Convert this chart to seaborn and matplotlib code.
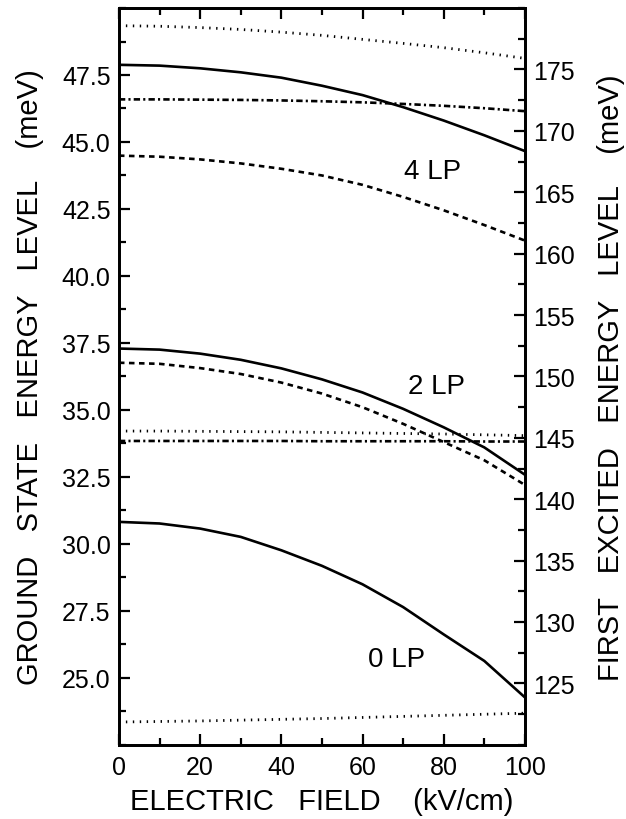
import numpy as np
import pandas as pd
import matplotlib
matplotlib.use("Agg")
import matplotlib.pyplot as plt
from matplotlib.ticker import MultipleLocator, FormatStrFormatter
import seaborn as sns

# Electric field sampling (kV/cm)
field = [0, 10, 20, 30, 40, 50, 60, 70, 80, 90, 100]

# Energy levels, expressed in ground-state axis units (meV)
solid_4lp = [47.88, 47.85, 47.75, 47.60, 47.40, 47.10, 46.75, 46.30, 45.80, 45.25, 44.66]
dotted_top = [49.34, 49.32, 49.27, 49.20, 49.10, 48.98, 48.83, 48.68, 48.52, 48.33, 48.12]
dashdot_top = [46.59, 46.59, 46.58, 46.57, 46.55, 46.52, 46.48, 46.42, 46.35, 46.26, 46.15]
dashed_4lp = [44.49, 44.45, 44.35, 44.20, 44.00, 43.75, 43.40, 42.95, 42.45, 41.90, 41.32]

solid_2lp = [37.29, 37.25, 37.10, 36.87, 36.55, 36.14, 35.65, 35.04, 34.35, 33.60, 32.58]
dashed_2lp = [36.76, 36.72, 36.56, 36.34, 36.02, 35.61, 35.10, 34.48, 33.80, 33.12, 32.20]
dotted_mid = [34.21, 34.21, 34.20, 34.19, 34.18, 34.16, 34.14, 34.12, 34.10, 34.07, 34.04]
dashdot_mid = [33.84, 33.84, 33.84, 33.84, 33.84, 33.83, 33.83, 33.83, 33.83, 33.82, 33.82]

solid_0lp = [30.82, 30.76, 30.57, 30.26, 29.76, 29.18, 28.49, 27.64, 26.62, 25.63, 24.27]
dotted_bot = [23.35, 23.37, 23.39, 23.42, 23.45, 23.48, 23.52, 23.56, 23.60, 23.64, 23.68]

# Curve labels and their anchor positions (field, energy)
lp_labels = ["4 LP", "2 LP", "0 LP"]
lp_x = [77.3, 78.3, 68.5]
lp_y = [43.9, 35.9, 25.7]

# Tick values for both energy scales
ground_ticks = [25.0, 27.5, 30.0, 32.5, 35.0, 37.5, 40.0, 42.5, 45.0, 47.5]
excited_ticks = [125, 130, 135, 140, 145, 150, 155, 160, 165, 170, 175]

sns.set_style("ticks")
plt.rcParams["font.family"] = ["Liberation Sans", "DejaVu Sans"]
plt.rcParams["text.color"] = "black"
plt.rcParams["axes.labelcolor"] = "black"

fig = plt.figure(figsize=(6.26, 8.2), dpi=100)
ax = fig.add_axes([0.190, 0.0905, 0.6485, 0.8985])

lw = 1.9
styles = {
    "solid": "-",
    "dashed": (0, (2.1, 1.7)),
    "dotted": (0, (0.5, 2.0)),
    "dashdot": (0, (2.4, 1.2, 0.8, 1.2)),
}

series = [
    (solid_4lp, "solid"), (dotted_top, "dotted"), (dashdot_top, "dashdot"),
    (dashed_4lp, "dashed"), (solid_2lp, "solid"), (dashed_2lp, "dashed"),
    (dotted_mid, "dotted"), (dashdot_mid, "dashdot"), (solid_0lp, "solid"),
    (dotted_bot, "dotted"),
]

for vals, style in series:
    df = pd.DataFrame({"field": field, "energy": vals})
    line_w = lw if style != "dotted" else 2.0
    sns.lineplot(data=df, x="field", y="energy", ax=ax, color="black",
                 linewidth=line_w, linestyle=styles[style], dash_capstyle="butt")

for txt, x, y in zip(lp_labels, lp_x, lp_y):
    ax.text(x, y, txt, fontsize=20, ha="center", va="center", color="black")

ax.set_xlim(0, 100)
ax.set_ylim(22.5, 50.0)
ax.xaxis.set_major_locator(MultipleLocator(20))
ax.xaxis.set_minor_locator(MultipleLocator(10))
ax.set_yticks(ground_ticks)
ax.yaxis.set_minor_locator(MultipleLocator(1.25))
ax.yaxis.set_major_formatter(FormatStrFormatter("%.1f"))

ax2 = ax.twinx()
ax2.set_ylim(120, 180)
ax2.set_yticks(excited_ticks)
ax2.yaxis.set_minor_locator(MultipleLocator(2.5))

for a in (ax, ax2):
    for sp in a.spines.values():
        sp.set_linewidth(2.0)
        sp.set_visible(True)
        sp.set_color("black")
    a.tick_params(which="major", direction="in", length=8, width=1.6,
                  labelsize=18, colors="black")
    a.tick_params(which="minor", direction="in", length=5, width=1.6,
                  colors="black")

ax.tick_params(axis="x", which="both", top=True)
ax.tick_params(axis="y", which="both", right=False)
ax.tick_params(axis="x", pad=7)
ax.tick_params(axis="y", pad=6)
ax2.tick_params(axis="y", pad=6)

ax.set_xlabel("ELECTRIC   FIELD    (kV/cm)", fontsize=21, labelpad=6)
ax.set_ylabel("GROUND   STATE   ENERGY   LEVEL    (meV)", fontsize=21,
              labelpad=13)
ax2.set_ylabel("FIRST   EXCITED   ENERGY   LEVEL    (meV)", fontsize=21,
               labelpad=16)

fig.savefig("out.png", dpi=100, facecolor="white")
